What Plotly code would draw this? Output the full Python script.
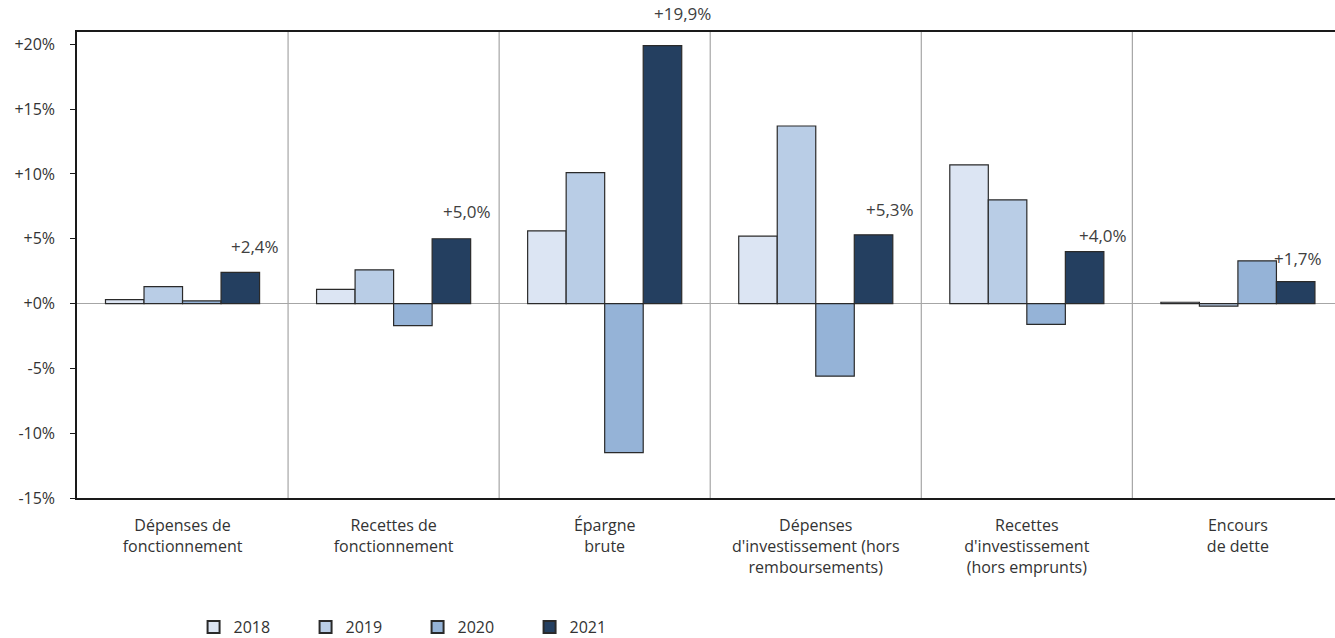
import plotly.graph_objects as go

categories = ["Dépenses de<br>fonctionnement", "Recettes de<br>fonctionnement", "Épargne<br>brute",
              "Dépenses<br>d'investissement (hors<br>remboursements)",
              "Recettes<br>d'investissement<br>(hors emprunts)", "Encours<br>de dette"]
years = ["2018", "2019", "2020", "2021"]
v2018 = [0.3, 1.1, 5.6, 5.2, 10.7, 0.1]
v2019 = [1.3, 2.6, 10.1, 13.7, 8.0, -0.2]
v2020 = [0.2, -1.7, -11.5, -5.6, -1.6, 3.3]
v2021 = [2.4, 5.0, 19.9, 5.3, 4.0, 1.7]
labels2021 = ["+2,4%", "+5,0%", "+19,9%", "+5,3%", "+4,0%", "+1,7%"]
yticks = [-15, -10, -5, 0, 5, 10, 15, 20]
yticktext = ["-15%", "-10%", "-5%", "+0%", "+5%", "+10%", "+15%", "+20%"]

colors = ["#dce5f3", "#b9cde6", "#95b3d7", "#243f60"]
series = [v2018, v2019, v2020, v2021]

FONT = "Open Sans"
TXT = "#333333"
fig = go.Figure()
xs = list(range(len(categories)))
for name, vals, c in zip(years, series, colors):
    fig.add_trace(go.Bar(x=xs, y=vals, name=name, marker=dict(color=c, line=dict(color="#2a2a2a", width=1.2))))

# 2021 labels
group_w = 0.73
bar_w = group_w / 4
off2021 = -group_w / 2 + bar_w * 3.5
label_shift = [(15, 12), (16, 14), (20, 19), (16, 12), (18, 3), (2, 10)]
for i, (v, t) in enumerate(zip(v2021, labels2021)):
    dx, dy = label_shift[i]
    fig.add_annotation(x=i + off2021, y=v, text=t, showarrow=False, yanchor="bottom",
                       xshift=dx, yshift=dy, font=dict(family=FONT, size=17, color="#404040"))

for i in range(len(categories) - 1):
    fig.add_shape(type="line", x0=i + 0.5, x1=i + 0.5, y0=0, y1=1, yref="paper",
                  line=dict(color="#a6a6a6", width=1.2), layer="below")

fig.update_layout(
    width=1335, height=638,
    margin=dict(l=77, r=0, t=32, b=140),
    plot_bgcolor="white", paper_bgcolor="white",
    barmode="group", bargap=1 - group_w, bargroupgap=0,
    font=dict(family=FONT, size=16, color=TXT),
    legend=dict(orientation="h", xref="container", yref="container", x=0.145, y=0.017,
                xanchor="left", yanchor="middle", entrywidth=67, entrywidthmode="pixels",
                font=dict(family=FONT, size=16, color=TXT), itemsizing="constant"),
    showlegend=True,
)
fig.update_xaxes(range=[-0.5, 5.46], tickvals=xs, ticktext=categories, showline=True, mirror=True,
                 linecolor="#1a1a1a", linewidth=1.5, showgrid=False, ticks="", zeroline=False,
                 ticklabelstandoff=12,
                 tickfont=dict(family=FONT, size=16, color=TXT))
fig.update_yaxes(range=[-15, 20.95], tickvals=yticks, ticktext=yticktext, showline=True,
                 linecolor="#1a1a1a", linewidth=1.5, showgrid=False, ticks="outside", ticklen=5,
                 tickcolor="#1a1a1a", zeroline=True, zerolinecolor="#a6a6a6", zerolinewidth=1.2,
                 ticklabelstandoff=12,
                 tickfont=dict(family=FONT, size=16, color=TXT))

fig.write_html("out.html")
